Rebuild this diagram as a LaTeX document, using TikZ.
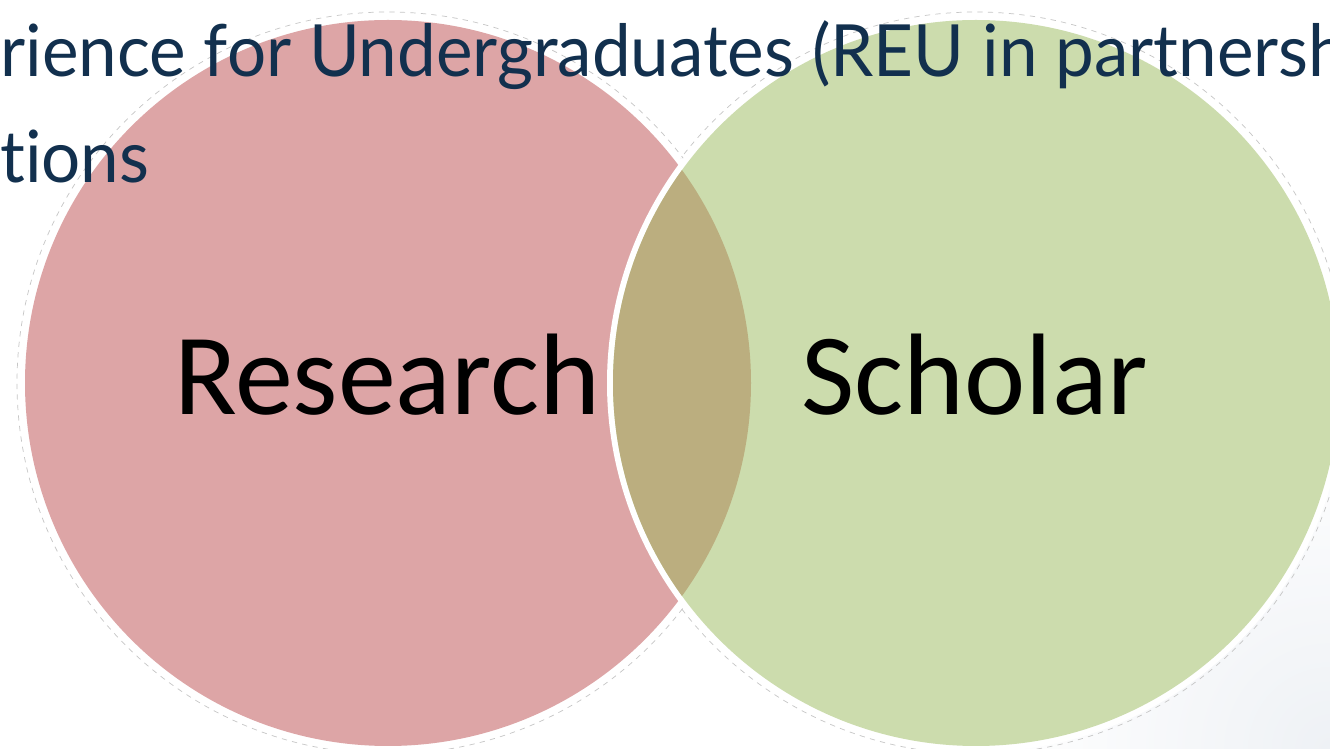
\documentclass[tikz,border=0pt]{standalone}
\usepackage{fontspec}
\setmainfont{Carlito}
\newfontfamily\titlefont[FakeStretch=0.96, Ligatures=NoCommon]{Lato}
\usetikzlibrary{positioning}
\definecolor{redfill}{HTML}{DDA5A6}
\definecolor{greenfill}{HTML}{CCDCAD}
\definecolor{lensfill}{HTML}{BBAE7F}
\definecolor{navytext}{HTML}{12304E}
\definecolor{slatebg}{HTML}{EEF1F5}

\begin{document}
\begin{tikzpicture}[
  x=0.02cm, y=-0.02cm,
  halo/.style={draw=gray!45, line width=0.4pt, dashed},
  labeltext/.style={font=\fontsize{66}{79}\selectfont, text=black, inner sep=0pt},
  titletext/.style={font=\titlefont\fontsize{41}{49}\selectfont, text=navytext, inner sep=0pt}
]
  \useasboundingbox (0,0) rectangle (1330,749);
  \clip (0,0) rectangle (1330,749);
  \fill[white] (0,0) rectangle (1330,749);
  \shade[inner color=slatebg, outer color=white] (1330,749) circle[radius=330];

  % circle centres
  \coordinate (rc) at (388,383);
  \coordinate (gc) at (976,383);

  % faint outlines
  \draw[halo] (rc) circle[radius=371];
  \draw[halo] (gc) circle[radius=371];

  % Research circle
  \fill[white] (rc) circle[radius=369];
  \fill[redfill] (rc) circle[radius=363];

  % Scholar circle
  \fill[white] (gc) circle[radius=369];
  \fill[greenfill] (gc) circle[radius=363];

  % overlap
  \begin{scope}
    \clip (rc) circle[radius=363];
    \fill[lensfill] (gc) circle[radius=363];
  \end{scope}

  % labels
  \node[labeltext, anchor=base] (research) at (387,415) {Research};
  \node[labeltext, anchor=base] (scholar) at (975,415) {Scholar};

  % title lines
  \node[titletext, anchor=base west] (titleA) at (0,77) {rience for Undergraduates (REU in partnersh};
  \node[titletext, anchor=base west] (titleB) at (0,183) {tions};
\end{tikzpicture}
\end{document}
